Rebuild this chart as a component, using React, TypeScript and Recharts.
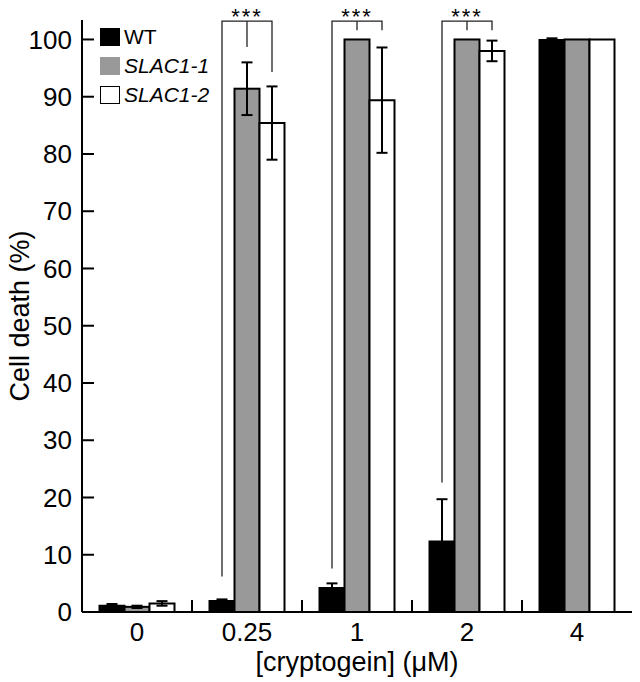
import React from 'react';
import { BarChart, Bar, XAxis, YAxis, ErrorBar, Legend } from 'recharts';

const categories = ['0', '0.25', '1', '2', '4'];
const wtValues = [1.1, 1.9, 4.2, 12.3, 99.9];
const wtErrors = [0.3, 0.3, 0.8, 7.4, 0.3];
const slac11Values = [0.9, 91.4, 100, 100, 100];
const slac11Errors = [0.2, 4.6, 0, 0, 0];
const slac12Values = [1.5, 85.4, 89.4, 98.0, 100];
const slac12Errors = [0.4, 6.4, 9.2, 1.8, 0];

// significance brackets per group, in % units (0 = none)
const sigLabels = ['', '***', '***', '***', ''];
const bracketTop = [0, 103.2, 103.2, 103.2, 0];
const bracketLeftEnd = [0, 6.2, 7.6, 22.6, 0];
const bracketMidEnd = [0, 98.7, 101.6, 101.6, 0];
const bracketRightEnd = [0, 94.3, 101.6, 101.6, 0];

const yTicks = [0, 10, 20, 30, 40, 50, 60, 70, 80, 90, 100];
const seriesNames = ['WT', 'SLAC1-1', 'SLAC1-2'];
const seriesColors = ['#000000', '#999999', '#ffffff'];

const data = categories.map((c, i) => ({
  dose: c,
  wt: wtValues[i],
  wtErr: wtErrors[i],
  s1: slac11Values[i],
  s1Err: slac11Errors[i],
  s2: slac12Values[i],
  s2Err: slac12Errors[i],
  sig: sigLabels[i],
  top: bracketTop[i],
  leftEnd: bracketLeftEnd[i],
  midEnd: bracketMidEnd[i],
  rightEnd: bracketRightEnd[i],
}));

const FONT = '"Liberation Sans", Arial, sans-serif';

// gray bar also draws the significance bracket (WT centre -> SLAC1-2 centre)
const GrayBar = (props: any) => {
  const { x, y, width, height, payload, value } = props;
  const v = Array.isArray(value) ? value[1] : value;
  const base = y + height;
  const k = v ? height / v : 0;
  const py = (val: number) => base - val * k;
  const xl = x - width / 2;
  const xm = x + width / 2;
  const xr = x + width * 1.5;
  return (
    <g>
      <rect x={x} y={y} width={width} height={height} fill="#999999" stroke="#000" strokeWidth={2} />
      {payload.sig && (
        <g stroke="#222" strokeWidth={1.3} fill="none">
          <polyline points={`${xl},${py(payload.leftEnd)} ${xl},${py(payload.top)} ${xr},${py(payload.top)} ${xr},${py(payload.rightEnd)}`} />
          <line x1={xm} y1={py(payload.top)} x2={xm} y2={py(payload.midEnd)} />
          <text x={xm} y={py(payload.top) + 3} textAnchor="middle" fontSize={22} letterSpacing={2} fill="#000" stroke="none" fontFamily={FONT}>
            {payload.sig}
          </text>
        </g>
      )}
    </g>
  );
};

const YTick = (props: any) => {
  const { x, y, payload } = props;
  return (
    <g>
      <line x1={x + 10} y1={y} x2={x + 22} y2={y} stroke="#000" strokeWidth={2} />
      <text x={x} y={y} dy="0.355em" textAnchor="end" fontSize={26} fontFamily={FONT} fill="#000">
        {payload.value}
      </text>
    </g>
  );
};

const XTick = (props: any) => {
  const { x, y, payload, index } = props;
  const half = payload.offset ?? 55;
  return (
    <g>
      {index > 0 && <line x1={x - half} y1={y} x2={x - half} y2={y - 12} stroke="#000" strokeWidth={2} />}
      <text x={x} y={y + 29} textAnchor="middle" fontSize={26} fontFamily={FONT} fill="#000">
        {payload.value}
      </text>
    </g>
  );
};

const LegendBox = () => (
  <div style={{ fontFamily: FONT, fontSize: 21, color: '#000' }}>
    {seriesNames.map((n, i) => (
      <div key={n} style={{ display: 'flex', alignItems: 'center', height: 28.7 }}>
        <div
          style={{
            width: 20,
            height: 18,
            boxSizing: 'border-box',
            background: seriesColors[i],
            border: i === 2 ? '1.5px solid #000' : 'none',
          }}
        />
        <span style={{ marginLeft: 4, fontStyle: i === 0 ? 'normal' : 'italic' }}>{n}</span>
      </div>
    ))}
  </div>
);

export default function App() {
  return (
    <div style={{ position: 'absolute', left: 0, top: 0, background: '#fff' }}>
      <BarChart
        width={640}
        height={682}
        data={data}
        margin={{ top: 20, right: 8, bottom: 0, left: 0 }}
        barCategoryGap={17.5}
        barGap={0}
      >
        <XAxis
          dataKey="dose"
          height={70}
          interval={0}
          tickLine={false}
          tickSize={0}
          tickMargin={0}
          axisLine={{ stroke: '#000', strokeWidth: 2 }}
          tick={<XTick />}
          label={{ value: '[cryptogein] (\u03bcM)', position: 'insideBottom', offset: 11, fontSize: 27, fontFamily: FONT, fill: '#000' }}
        />
        <YAxis
          width={82}
          domain={[0, 103.4]}
          ticks={yTicks}
          interval={0}
          tickLine={false}
          tickSize={0}
          tickMargin={10}
          axisLine={{ stroke: '#000', strokeWidth: 2 }}
          tick={<YTick />}
          label={{
            value: 'Cell death (%)',
            angle: -90,
            position: 'insideLeft',
            offset: 19,
            fontSize: 27,
            fontFamily: FONT,
            fill: '#000',
            style: { textAnchor: 'middle' },
          }}
        />
        <Legend
          layout="vertical"
          align="center"
          verticalAlign="middle"
          wrapperStyle={{ left: 100, top: 23, width: 'auto' }}
          content={<LegendBox />}
        />
        <Bar dataKey="wt" name="WT" fill="#000" stroke="#000" strokeWidth={2} isAnimationActive={false}>
          <ErrorBar dataKey="wtErr" width={5.5} stroke="#000" strokeWidth={2} />
        </Bar>
        <Bar dataKey="s1" name="SLAC1-1" fill="#999999" shape={<GrayBar />} isAnimationActive={false}>
          <ErrorBar dataKey="s1Err" width={5.5} stroke="#000" strokeWidth={2} />
        </Bar>
        <Bar dataKey="s2" name="SLAC1-2" fill="#fff" stroke="#000" strokeWidth={2} isAnimationActive={false}>
          <ErrorBar dataKey="s2Err" width={5.5} stroke="#000" strokeWidth={2} />
        </Bar>
      </BarChart>
    </div>
  );
}
